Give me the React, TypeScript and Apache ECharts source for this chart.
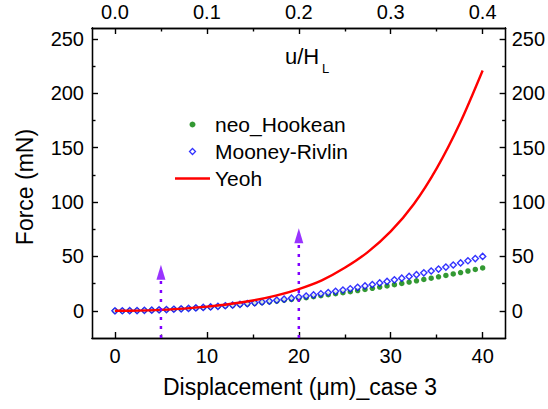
import React, { useEffect, useRef } from "react";
import * as echarts from "echarts";

const xTicks = [0, 10, 20, 30, 40];
const xMinorTicks = [5, 15, 25, 35];
const topTickLabels = ["0.0", "0.1", "0.2", "0.3", "0.4"];
const yTicks = [0, 50, 100, 150, 200, 250];
const yMinorTicks = [25, 75, 125, 175, 225];

const markerX = [0, 0.8, 1.6, 2.4, 3.2, 4, 4.8, 5.6, 6.4, 7.2, 8, 8.8, 9.6, 10.4, 11.2, 12, 12.8, 13.6, 14.4, 15.2, 16, 16.8, 17.6, 18.4, 19.2, 20, 20.8, 21.6, 22.4, 23.2, 24, 24.8, 25.6, 26.4, 27.2, 28, 28.8, 29.6, 30.4, 31.2, 32, 32.8, 33.6, 34.4, 35.2, 36, 36.8, 37.6, 38.4, 39.2, 40];
const neoHookean = [0, 0.03, 0.12, 0.25, 0.42, 0.62, 0.87, 1.14, 1.45, 1.8, 2.17, 2.58, 3.02, 3.49, 3.98, 4.51, 5.07, 5.65, 6.26, 6.9, 7.57, 8.27, 8.99, 9.73, 10.5, 11.3, 12.1, 13.0, 13.9, 14.8, 15.7, 16.7, 17.6, 18.6, 19.7, 20.7, 21.8, 22.9, 24.0, 25.2, 26.4, 27.6, 28.8, 30.0, 31.3, 32.5, 33.9, 35.2, 36.6, 38.0, 39.4];
const mooneyRivlin = [0, 0.03, 0.12, 0.25, 0.42, 0.62, 0.87, 1.15, 1.46, 1.82, 2.19, 2.62, 3.09, 3.58, 4.1, 4.68, 5.3, 5.95, 6.63, 7.35, 8.12, 8.95, 9.8, 10.7, 11.6, 12.6, 13.6, 14.6, 15.7, 16.8, 17.9, 19.1, 20.3, 21.6, 22.9, 24.2, 25.6, 27.0, 28.5, 30.0, 31.6, 33.2, 34.9, 36.6, 38.4, 40.2, 42.1, 44.0, 46.0, 48.0, 50.0];
const yeohX = [0, 2.5, 5, 7.5, 10, 12.5, 15, 17.5, 20, 22.5, 25, 27.5, 30, 32.5, 35, 37.5, 40];
const yeoh = [0, 0.2, 0.9, 2.0, 3.8, 6.2, 9.5, 14, 20, 28, 39.5, 54, 73, 98, 131, 172, 221];
const arrowX = [5, 20];
const arrowBase = [29, 62];
const arrowHead = [35.5, 69];

const FONT = "'Liberation Sans', Arial, Helvetica, sans-serif";
const X_MIN = -2.5, X_MAX = 42.5, Y_MIN = -25, Y_MAX = 260;

function axisBase(extra: any) {
  return {
    type: "value",
    splitLine: { show: false },
    axisLine: { show: true, onZero: false, lineStyle: { color: "#000", width: 1.3 } },
    ...extra,
  };
}

export default function App() {
  const ref = useRef<HTMLDivElement>(null);
  useEffect(() => {
    if (!ref.current) return;
    const chart = echarts.init(ref.current, null, { renderer: "svg" });
    const tickStyle = { color: "#000", width: 1.4 };
    const labelStyle = { color: "#000", fontSize: 20, fontFamily: FONT };
    const majorX = (pos: string, labels: boolean, formatter?: any) =>
      axisBase({
        position: pos, min: X_MIN, max: X_MAX, gridIndex: 0,
        axisTick: { show: true, inside: true, length: 6, customValues: xTicks, lineStyle: tickStyle },
        axisLabel: labels
          ? { show: true, customValues: xTicks, margin: pos === "top" ? 6 : 8, ...labelStyle, ...(formatter ? { formatter } : {}) }
          : { show: false },
      });
    const minorX = (pos: string) =>
      axisBase({
        position: pos, offset: 0, min: X_MIN, max: X_MAX, gridIndex: 0,
        axisTick: { show: true, inside: true, length: 3.5, customValues: xMinorTicks, lineStyle: tickStyle },
        axisLabel: { show: false },
      });
    const majorY = (pos: string) =>
      axisBase({
        position: pos, min: Y_MIN, max: Y_MAX, gridIndex: 0,
        axisTick: { show: true, inside: true, length: 6, customValues: yTicks, lineStyle: tickStyle },
        axisLabel: { show: true, customValues: yTicks, margin: pos === "left" ? 8 : 6, ...labelStyle },
      });
    const minorY = (pos: string) =>
      axisBase({
        position: pos, offset: 0, min: Y_MIN, max: Y_MAX, gridIndex: 0,
        axisTick: { show: true, inside: true, length: 3.5, customValues: yMinorTicks, lineStyle: tickStyle },
        axisLabel: { show: false },
      });

    const arrowSeries = arrowX.map((x, i) => ({
      type: "line",
      name: "arrow" + i,
      data: [[x, Y_MIN], [x, arrowBase[i]]],
      symbol: "none",
      silent: true,
      lineStyle: { color: "#8000ff", width: 2.5, type: [3, 6] },
      z: 5,
    }));

    chart.setOption({
      animation: false,
      backgroundColor: "#fff",
      grid: { left: 92, top: 28, width: 416, height: 310, containLabel: false },
      xAxis: [
        majorX("bottom", true),
        minorX("bottom"),
        majorX("top", true, (v: number) => topTickLabels[xTicks.indexOf(Math.round(v))] ?? ""),
        minorX("top"),
      ],
      yAxis: [majorY("left"), minorY("left"), majorY("right"), minorY("right")],
      legend: {
        data: [
          { name: "neo_Hookean", icon: "circle", itemStyle: { color: "#008000" } },
          { name: "Mooney-Rivlin", icon: "path://M0,-1L1,0L0,1L-1,0Z", itemStyle: { color: "#fff", borderColor: "#0000ff", borderWidth: 1.3 } },
          { name: "Yeoh", icon: "path://M0,0L35,0L35,2.4L0,2.4Z", itemStyle: { color: "#ff0000", borderWidth: 0 } },
        ],
        orient: "vertical",
        left: 175,
        top: 114,
        padding: 0,
        itemWidth: 35,
        itemHeight: 6,
        itemGap: 6,
        selectedMode: false,
        textStyle: { fontSize: 21, color: "#000", fontFamily: FONT },
      },
      series: [
        {
          type: "scatter",
          name: "neo_Hookean",
          data: markerX.map((x, i) => [x, neoHookean[i]]),
          symbol: "circle",
          symbolSize: 5.5,
          itemStyle: { color: "#008000" },
          z: 2,
        },
        {
          type: "scatter",
          name: "Mooney-Rivlin",
          data: markerX.map((x, i) => [x, mooneyRivlin[i]]),
          symbol: "diamond",
          symbolSize: 6.2,
          itemStyle: { color: "#fff", borderColor: "#0000ff", borderWidth: 1.4 },
          z: 3,
        },
        {
          type: "line",
          name: "Yeoh",
          data: yeohX.map((x, i) => [x, yeoh[i]]),
          smooth: 0.3,
          symbol: "none",
          showSymbol: false,
          lineStyle: { color: "#ff0000", width: 2.4 },
          itemStyle: { color: "#ff0000" },
          z: 4,
        },
        ...arrowSeries,
        {
          type: "scatter",
          name: "arrowHeads",
          data: arrowX.map((x, i) => [x, arrowHead[i]]),
          symbol: "triangle",
          symbolSize: [9, 15],
          itemStyle: { color: "#8000ff" },
          silent: true,
          z: 6,
        },
      ],
      graphic: [
        {
          type: "text",
          x: 300, y: 387,
          style: { text: "Displacement (\u03bcm)_case 3", fontSize: 23, fontFamily: FONT, fill: "#000", align: "center", verticalAlign: "middle" },
        },
        {
          type: "text",
          x: 25, y: 187, rotation: Math.PI / 2,
          style: { text: "Force (mN)", fontSize: 23, fontFamily: FONT, fill: "#000", align: "center", verticalAlign: "middle" },
        },
        {
          type: "text",
          x: 285, y: 56,
          style: { text: "u/H", fontSize: 22, fontFamily: FONT, fill: "#000", align: "left", verticalAlign: "middle" },
        },
        {
          type: "text",
          x: 322, y: 68.5,
          style: { text: "L", fontSize: 13, fontFamily: FONT, fill: "#000", align: "left", verticalAlign: "middle" },
        },
      ],
    });
    return () => chart.dispose();
  }, []);
  return <div ref={ref} style={{ position: "fixed", left: 0, top: 0, width: 548, height: 409 }} />;
}
